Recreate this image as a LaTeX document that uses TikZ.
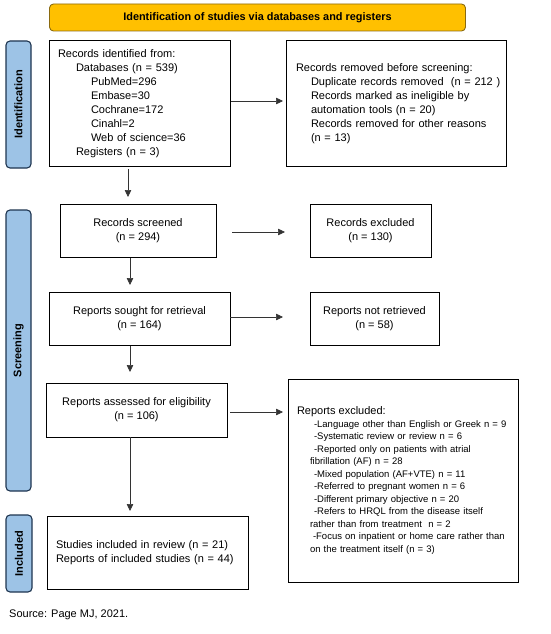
\documentclass[tikz,border=0pt]{standalone}
\usepackage{fontspec}
\setmainfont{Liberation Sans}
\usetikzlibrary{arrows.meta,calc}
\definecolor{bannerfill}{HTML}{FFC000}
\definecolor{bannerline}{HTML}{8A6A10}
\definecolor{sidefill}{HTML}{9DC3E6}
\definecolor{sideline}{HTML}{1E3550}
\hfuzz=50pt
\begin{document}
\begin{tikzpicture}[x=1pt,y=-1pt,
  box/.style={draw=black, line width=1pt, fill=white, inner sep=0pt, outer sep=0pt,
    font=\fontsize{11}{14}\selectfont},
  lbox/.style={box, align=left, inner xsep=9pt},
  cbox/.style={box, align=center},
  sidebar/.style={draw=sideline, line width=1.1pt, fill=sidefill, rounded corners=4pt,
    rotate=90, inner sep=0pt, outer sep=0pt, font=\bfseries\fontsize{11}{13}\selectfont},
  arr/.style={draw=black!80, line width=0.6pt, -{Triangle[length=7pt,width=6.5pt]}}]
\useasboundingbox (0,0) rectangle (550,634);

% banner
\node[draw=bannerline, line width=0.9pt, fill=bannerfill, rounded corners=4pt,
  minimum width=416pt, minimum height=27pt, inner sep=0pt,
  font=\bfseries\fontsize{10.9}{13}\selectfont] (banner) at (257.5,17.5)
  {Identification of studies via databases and registers};

% side bars
\node[sidebar, minimum width=127pt, minimum height=25pt] (sideid) at (18.5,104.5) {Identification};
\node[sidebar, minimum width=281pt, minimum height=25pt] (sidescr) at (18.5,350.5) {Screening};
\node[sidebar, minimum width=77pt, minimum height=26pt] (sideinc) at (19,553.5) {Included};

% boxes
\node[lbox, text width=163pt, minimum height=125pt] (ident) at (139.5,103.5)
  {Records identified from:\\
   \hspace*{18pt}Databases (n = 539)\\
   \hspace*{33pt}PubMed=296\\
   \hspace*{33pt}Embase=30\\
   \hspace*{33pt}Cochrane=172\\
   \hspace*{33pt}Cinahl=2\\
   \hspace*{33pt}Web of science=36\\
   \hspace*{18pt}Registers (n = 3)};
\node[lbox, text width=200pt, inner xsep=10pt, minimum height=125pt] (removed) at (396,103.5)
  {Records removed before screening:\\
   \hspace*{15pt}\mbox{Duplicate records removed\ \ (n = 212 )}\\
   \hspace*{15pt}\mbox{Records marked as ineligible by}\\
   \hspace*{15pt}\mbox{automation tools (n = 20)}\\
   \hspace*{15pt}\mbox{Records removed for other reasons}\\
   \hspace*{15pt}(n = 13)};

\node[cbox, minimum width=156pt, minimum height=53pt] (screened) at (138,230.5)
  {Records screened\\(n = 294)};
\node[cbox, minimum width=121pt, minimum height=53pt] (excl1) at (370.5,230.5)
  {Records excluded\\(n = 130)};
\node[cbox, minimum width=181pt, minimum height=53pt] (sought) at (139.5,318.5)
  {Reports sought for retrieval\\(n = 164)};
\node[cbox, minimum width=129pt, minimum height=53pt] (notretr) at (374.5,318.5)
  {Reports not retrieved\\(n = 58)};
\node[cbox, minimum width=181pt, minimum height=54pt] (assessed) at (136.5,410)
  {Reports assessed for eligibility\\(n = 106)};
\node[lbox, text width=212pt, inner xsep=9pt, minimum height=203pt,
  font=\fontsize{9.5}{12.5}\selectfont] (excl2) at (403,480.5)
  {{\fontsize{11}{12.5}\selectfont Reports excluded:}\\
   \hspace*{17pt}\mbox{-Language other than English or Greek n = 9}\\
   \hspace*{17pt}\mbox{-Systematic review or review n = 6}\\
   \hspace*{17pt}\mbox{-Reported only on patients with atrial}\\
   \hspace*{13pt}\mbox{fibrillation (AF) n = 28}\\
   \hspace*{17pt}\mbox{-Mixed population (AF+VTE) n = 11}\\
   \hspace*{17pt}\mbox{-Referred to pregnant women n = 6}\\
   \hspace*{17pt}\mbox{-Different primary objective n = 20}\\
   \hspace*{17pt}\mbox{-Refers to HRQL from the disease itself}\\
   \hspace*{13pt}\mbox{rather than from treatment\ \ n = 2}\\
   \hspace*{16pt}\mbox{-Focus on inpatient or home care rather than}\\
   \hspace*{13pt}\mbox{on the treatment itself (n = 3)}};
\node[lbox, text width=183pt, inner xsep=9pt, minimum height=73pt] (incl) at (147.5,552.5)
  {Studies included in review (n = 21)\\
   Reports of included studies (n = 44)};

\node[anchor=west, inner sep=0pt, font=\fontsize{11}{13}\selectfont] (source) at (9,615)
  {Source: Page MJ, 2021.};

% column coordinates for vertical arrows
\coordinate (colA) at (128,0);
\coordinate (colB) at (130,0);

% horizontal arrows
\draw[arr, shorten <=1pt, shorten >=3pt] (ident.east |- 0,101) -- (removed.west |- 0,101);
\draw[arr, shorten <=16pt, shorten >=25pt] (screened.east |- 0,232) -- (excl1.west |- 0,232);
\draw[arr, shorten >=27pt] (sought.east |- 0,317) -- (notretr.west |- 0,317);
\draw[arr, shorten <=3pt, shorten >=5pt] (assessed.east |- 0,412) -- (excl2.west |- 0,412);

% vertical arrows
\draw[arr, shorten <=3pt, shorten >=7pt] (ident.south -| colA) -- (screened.north -| colA);
\draw[arr, shorten <=1pt, shorten >=7pt] (screened.south -| colB) -- (sought.north -| colB);
\draw[arr, shorten <=1pt, shorten >=11pt] (sought.south -| colB) -- (assessed.north -| colB);
\draw[arr, shorten <=0pt, shorten >=5pt] (assessed.south -| colB) -- (incl.north -| colB);
\end{tikzpicture}
\end{document}
